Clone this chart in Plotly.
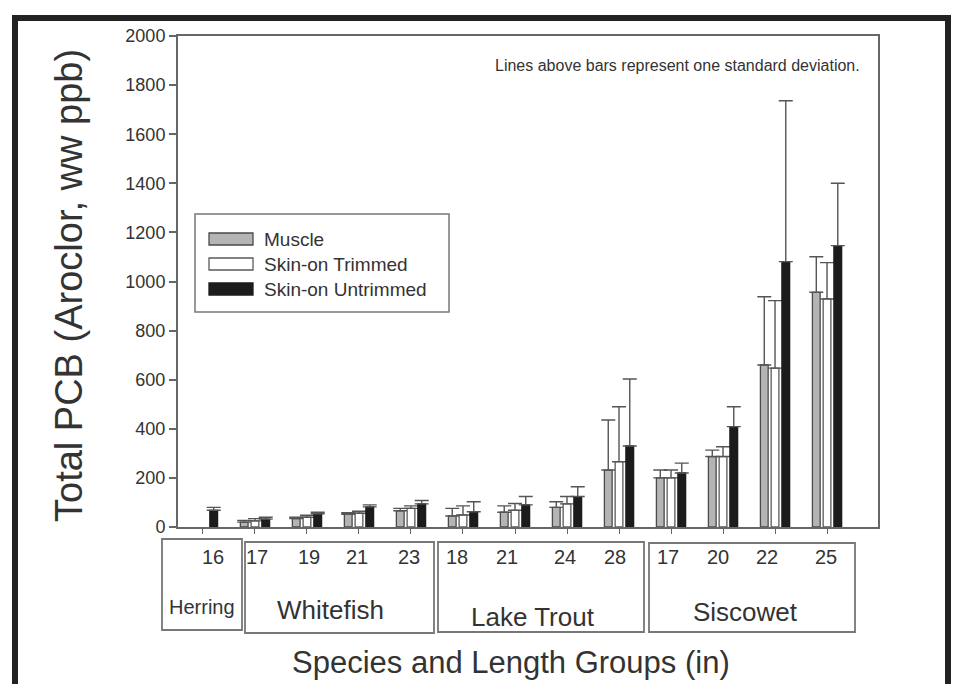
import plotly.graph_objects as go

# ---------------- data ----------------
length_labels = ["16", "17", "19", "21", "23", "18", "21", "24", "28", "17", "20", "22", "25"]
species = ["Herring", "Whitefish", "Lake Trout", "Siscowet"]
muscle = [None, 20, 34, 52, 66, 45, 60, 80, 232, 200, 287, 660, 956]
muscle_sd = [None, 7, 6, 6, 10, 31, 26, 23, 204, 32, 26, 278, 145]
trimmed = [None, 25, 40, 56, 76, 49, 68, 94, 266, 200, 287, 647, 929]
trimmed_sd = [None, 9, 8, 8, 10, 37, 28, 30, 224, 32, 40, 275, 148]
untrimmed = [68, 32, 54, 82, 94, 62, 90, 124, 330, 220, 409, 1081, 1146]
untrimmed_sd = [12, 8, 6, 8, 14, 41, 34, 40, 273, 40, 81, 655, 254]
series_names = ["Muscle", "Skin-on Trimmed", "Skin-on Untrimmed"]
y_ticks = list(range(0, 2001, 200))

# ---------------- layout helpers ----------------
W, H = 962, 684
L, R, T, B = 178, 84, 36, 157
PW, PH = W - L - R, H - T - B


def xp(px):
    return (px - L) / PW


def yp(py):
    return (H - B - py) / PH


x = list(range(len(length_labels)))
fills = ["#b4b4b4", "#ffffff", "#1c1c1c"]
outlines = ["#4a4a4a", "#5a5a5a", "#1c1c1c"]
vals = [muscle, trimmed, untrimmed]
sds = [muscle_sd, trimmed_sd, untrimmed_sd]

fig = go.Figure()
for name, v, sd, fc, lc in zip(series_names, vals, sds, fills, outlines):
    fig.add_trace(go.Bar(
        x=x, y=v, name=name,
        marker=dict(color=fc, line=dict(color=lc, width=1.3)),
        error_y=dict(type="data", array=sd, arrayminus=[0] * len(sd), symmetric=False,
                     color="#555555", thickness=1.4, width=7),
        showlegend=False,
    ))

fig.update_layout(
    width=W, height=H,
    margin=dict(l=L, r=R, t=T, b=B, pad=0),
    paper_bgcolor="white", plot_bgcolor="white",
    barmode="group", bargap=0.38, bargroupgap=0.28,
    font=dict(family="Liberation Sans, Arial, sans-serif", color="#333333"),
    xaxis=dict(range=[-0.48, 12.98], tickvals=x, ticktext=[""] * len(x),
               ticks="outside", ticklen=5, tickwidth=1.3, tickcolor="#666666",
               showline=True, linecolor="#666666", linewidth=2, mirror=True,
               showgrid=False, zeroline=False),
    yaxis=dict(range=[0, 2000], tickvals=y_ticks, ticks="outside", ticklen=7,
               tickwidth=1.5, tickcolor="#666666",
               tickfont=dict(size=18, color="#333333"),
               showline=True, linecolor="#666666", linewidth=2, mirror=True,
               showgrid=False, zeroline=False),
)

shapes = []
annotations = []

# outer black frame
shapes.append(dict(type="rect", xref="paper", yref="paper",
                   x0=xp(15), x1=xp(948), y0=yp(720), y1=yp(18),
                   line=dict(color="#222222", width=6), fillcolor="rgba(0,0,0,0)"))

# legend box
shapes.append(dict(type="rect", xref="paper", yref="paper",
                   x0=xp(195), x1=xp(449), y0=yp(312), y1=yp(214),
                   line=dict(color="#777777", width=1.5), fillcolor="white"))
leg_rows = [239, 264, 289]
for name, fc, lc, ry in zip(series_names, fills, outlines, leg_rows):
    shapes.append(dict(type="rect", xref="paper", yref="paper",
                       x0=xp(209), x1=xp(253), y0=yp(ry + 6), y1=yp(ry - 6),
                       line=dict(color=lc, width=1.3), fillcolor=fc))
    annotations.append(dict(text=name, xref="paper", yref="paper", x=xp(262), y=yp(ry),
                            xanchor="left", yanchor="middle", showarrow=False,
                            font=dict(size=19, color="#333333")))

# note
annotations.append(dict(text="Lines above bars represent one standard deviation.",
                        xref="paper", yref="paper", x=xp(862), y=yp(66),
                        xanchor="right", yanchor="middle", showarrow=False,
                        font=dict(size=16, color="#333333")))

# species boxes below axis
boxes = [(162, 242, 539, 630), (245, 434, 542, 633), (438, 644, 542, 632), (649, 855, 543, 632)]
for (bx0, bx1, by0, by1) in boxes:
    shapes.append(dict(type="rect", xref="paper", yref="paper",
                       x0=xp(bx0), x1=xp(bx1), y0=yp(by1), y1=yp(by0),
                       line=dict(color="#777777", width=1.8), fillcolor="rgba(0,0,0,0)"))

label_shift = [10, 2, 2, -2, -2, -6, -8, -2, -4, -3, -5, -8, -1]
for i, (lab, s) in enumerate(zip(length_labels, label_shift)):
    annotations.append(dict(text=lab, xref="x", yref="paper", x=i, y=yp(557), xshift=s,
                            xanchor="center", yanchor="middle", showarrow=False,
                            font=dict(size=20, color="#333333")))

species_pos = [(202, 607, 20), (330, 610, 26), (533, 617, 26), (745, 612, 26)]
for name, (sx, sy, fs) in zip(species, species_pos):
    annotations.append(dict(text=name, xref="paper", yref="paper", x=xp(sx), y=yp(sy),
                            xanchor="center", yanchor="middle", showarrow=False,
                            font=dict(size=fs, color="#333333")))

# axis titles
annotations.append(dict(text="Species and Length Groups (in)", xref="paper", yref="paper",
                        x=xp(511), y=yp(662), xanchor="center", yanchor="middle",
                        showarrow=False, font=dict(size=31, color="#333333")))
annotations.append(dict(text="Total PCB (Aroclor, ww ppb)", xref="paper", yref="paper",
                        x=xp(69), y=yp(286), xanchor="center", yanchor="middle",
                        textangle=-90, showarrow=False, font=dict(size=38, color="#333333")))

fig.update_layout(shapes=shapes, annotations=annotations)
fig.write_html("out.html")
